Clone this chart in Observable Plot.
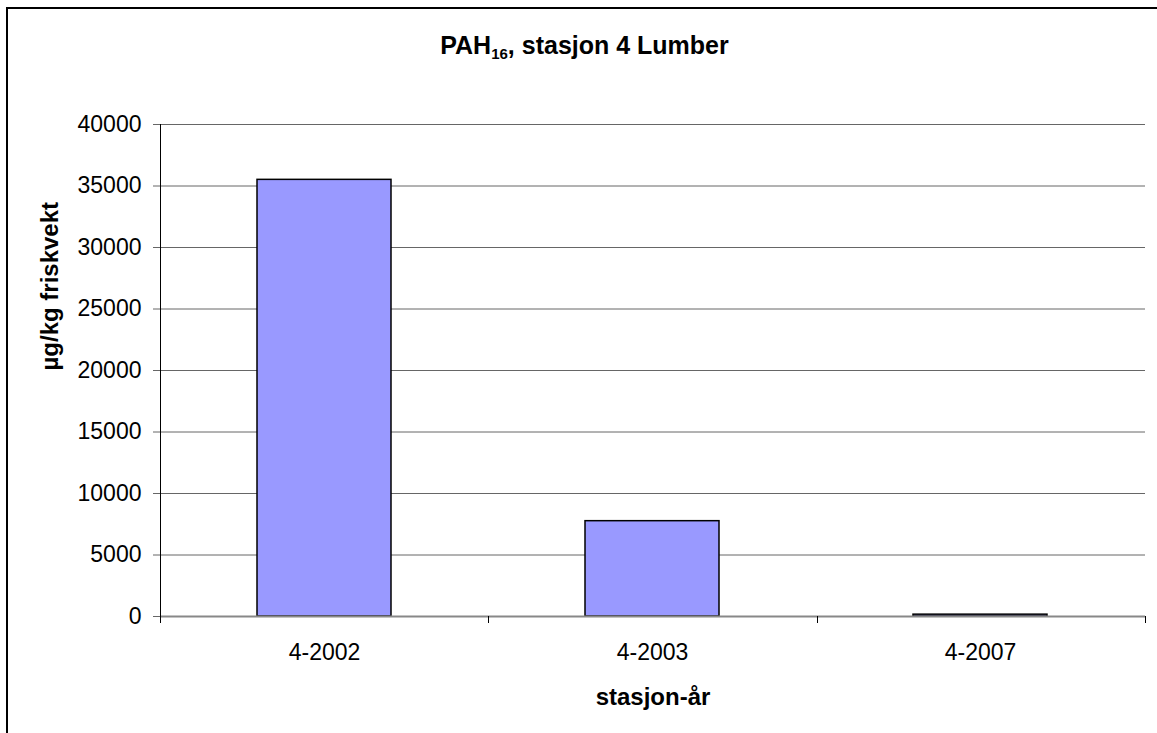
<!DOCTYPE html>
<html><head><meta charset="utf-8">
<script src="https://cdn.jsdelivr.net/npm/d3@7"></script>
<script src="https://cdn.jsdelivr.net/npm/@observablehq/plot@0.6"></script>
<style>
body{margin:0;background:#fff;}
#wrap{position:relative;width:1157px;height:733px;overflow:hidden;font-family:"Liberation Sans",Arial,sans-serif;background:#fff;}
#border{position:absolute;left:6px;top:7px;width:1300px;height:900px;border-left:2px solid #000;border-top:2px solid #000;}
#title{position:absolute;left:6px;top:33px;width:1157px;text-align:center;font-weight:bold;font-size:25px;line-height:25px;color:#000;}
#title sub{font-size:15px;vertical-align:-5px;line-height:0;}
#chart{position:absolute;left:0;top:0;}
</style>
</head><body>
<div id="wrap">
  <div id="border"></div>
  <div id="chart"></div>
  <div id="title">PAH<sub>16</sub>, stasjon 4 Lumber</div>
</div>
<script>
const categories = ["4-2002", "4-2003", "4-2007"];
const values = [35500, 7750, 150];
const yTicks = [0, 5000, 10000, 15000, 20000, 25000, 30000, 35000, 40000];
const yLabel = "µg/kg friskvekt";
const xLabel = "stasjon-år";

const data = categories.map((c, i) => ({cat: c, val: values[i]}));

const frameMarks = (index, scales, vals, dims) => {
  const g = d3.create("svg:g");
  const {marginLeft, marginRight, width} = dims;
  const y0 = scales.y(0);
  const n = categories.length;
  const w = (width - marginLeft - marginRight) / n;
  for (let i = 0; i <= n; i++) {
    const x = Math.round(marginLeft + i * w) + 0.5;
    g.append("line").attr("x1", x).attr("x2", x).attr("y1", y0).attr("y2", y0 + 7)
      .attr("stroke", "#000").attr("stroke-width", 1);
  }
  g.append("line").attr("x1", marginLeft + 0.5).attr("x2", marginLeft + 0.5)
    .attr("y1", scales.y(yTicks[yTicks.length - 1])).attr("y2", y0)
    .attr("stroke", "#000").attr("stroke-width", 1);
  return g.node();
};

const chart = Plot.plot({
  width: 1157,
  height: 733,
  marginLeft: 160,
  marginRight: 12,
  marginTop: 124,
  marginBottom: 117,
  style: {fontSize: "23px", fontFamily: "'Liberation Sans', Arial, sans-serif", color: "#000", background: "transparent"},
  x: {domain: categories, paddingInner: 0.59, paddingOuter: 0.295, label: null},
  y: {domain: [0, 40000], label: null},
  marks: [
    Plot.ruleY(yTicks.filter(d => d > 0), {stroke: "#666", strokeWidth: 1}),
    Plot.barY(data, {x: "cat", y: "val", fill: "#9999ff", stroke: "#000", strokeWidth: 1.5}),
    Plot.ruleY([0], {stroke: "#888", strokeWidth: 2}),
    frameMarks,
    Plot.axisY({ticks: yTicks, tickSize: 7, tickPadding: 12, tickFormat: d => String(d), label: null, stroke: "#666"}),
    Plot.axisX({tickSize: 0, tickPadding: 27, label: null}),
    Plot.text([xLabel], {text: d => d, frameAnchor: "bottom", dy: 88, fontSize: 24, fontWeight: "bold"}),
    Plot.text([yLabel], {text: d => d, frameAnchor: "left", dx: -110, rotate: -90, fontSize: 24, fontWeight: "bold"})
  ]
});
document.getElementById("chart").appendChild(chart);
</script>
</body></html>
